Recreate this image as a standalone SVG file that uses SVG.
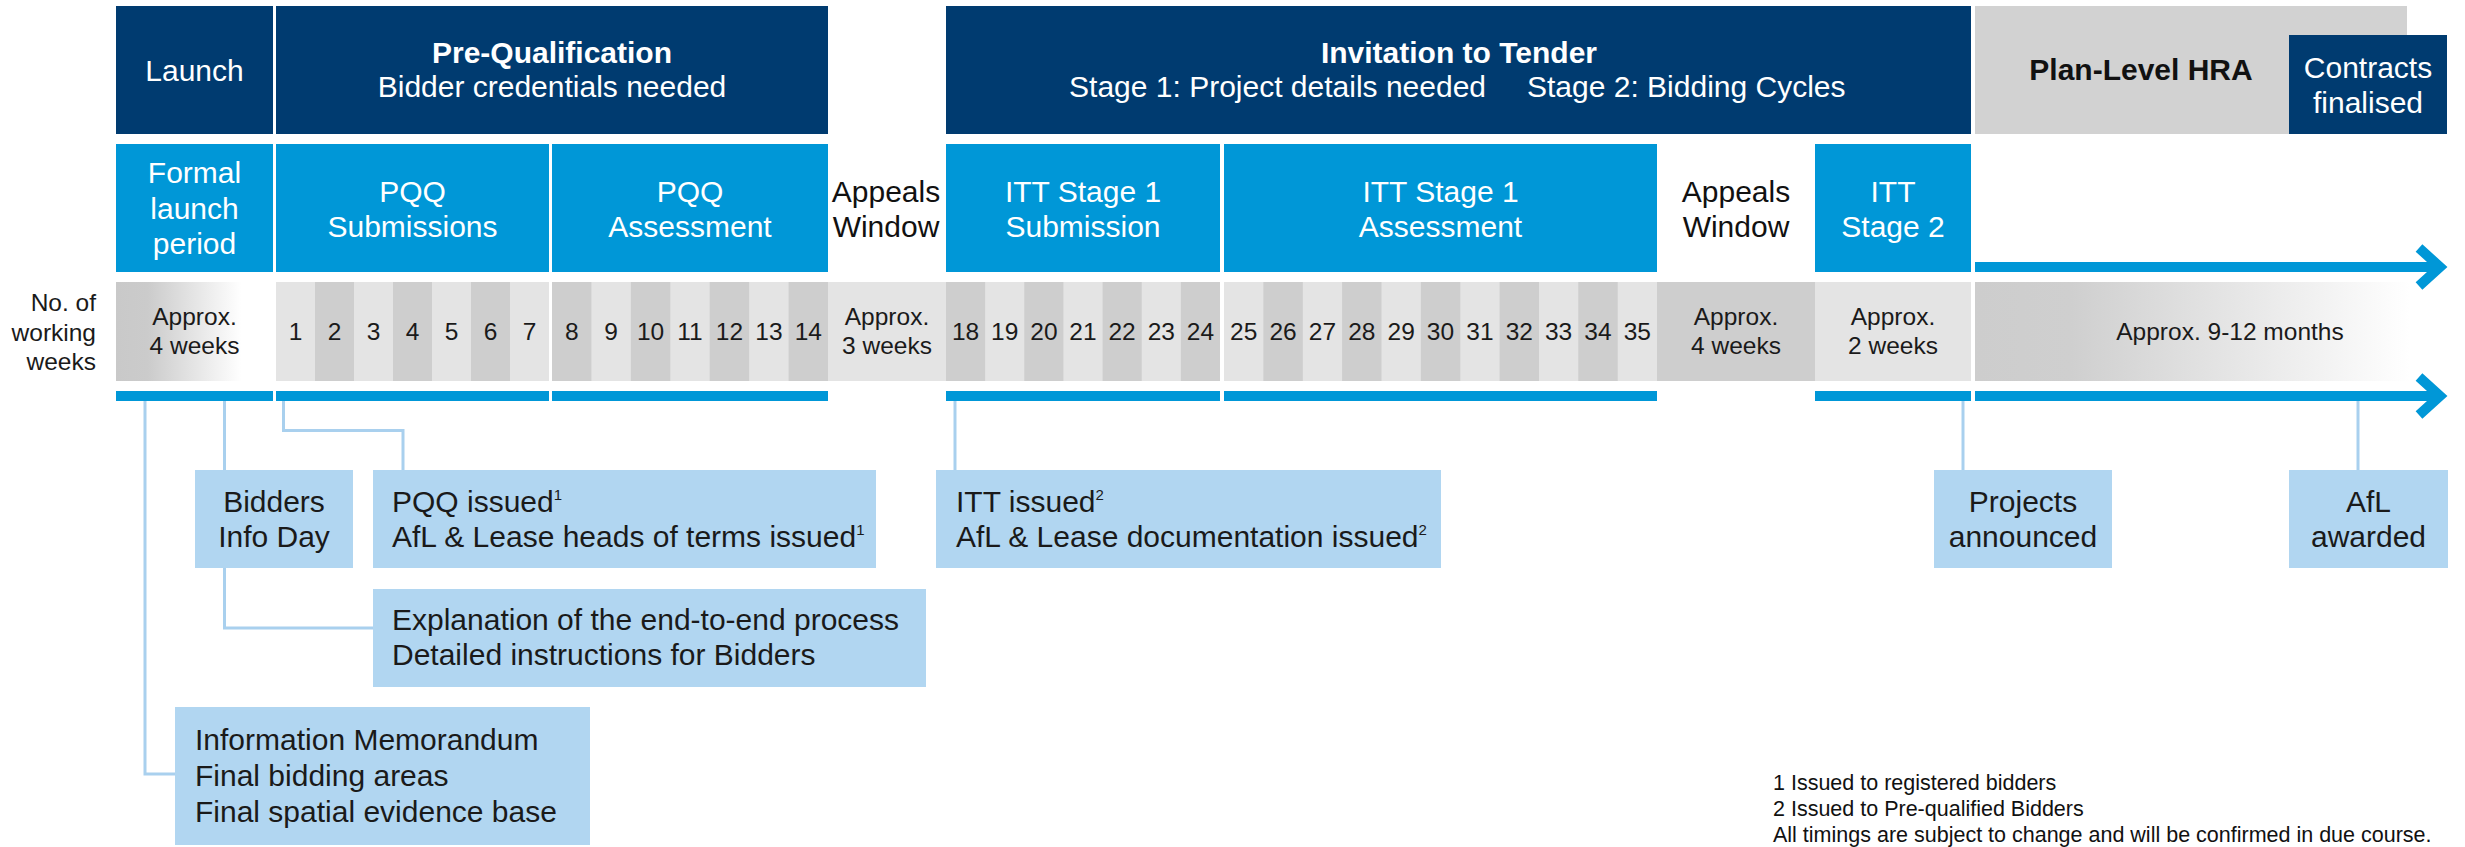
<svg xmlns="http://www.w3.org/2000/svg" width="2465" height="847" viewBox="0 0 2465 847">
<defs>
<linearGradient id="gLaunch" x1="0" y1="0" x2="1" y2="0">
<stop offset="0" stop-color="#c9c9c9"/><stop offset="0.2" stop-color="#cbcbcb"/><stop offset="0.8" stop-color="#ffffff"/><stop offset="1" stop-color="#ffffff"/>
</linearGradient>
<linearGradient id="gMonths" x1="0" y1="0" x2="1" y2="0">
<stop offset="0" stop-color="#cdcdcd"/><stop offset="0.22" stop-color="#cfcfcf"/><stop offset="0.7" stop-color="#ececec"/><stop offset="1" stop-color="#ffffff"/>
</linearGradient>
<style>
text{font-family:"Liberation Sans",Arial,sans-serif;}
.navy{fill:#003b70;}
.blue{fill:#0097d7;}
.pale{fill:#b1d6f1;}
.lg{fill:#e4e4e4;}
.dg{fill:#cecece;}
.hd{font-size:30px;fill:#fff;text-anchor:middle;}
.hb{font-size:30px;font-weight:bold;text-anchor:middle;}
.ph{font-size:30px;fill:#fff;text-anchor:middle;}
.pk{font-size:30px;fill:#111;text-anchor:middle;}
.num{font-size:24.5px;fill:#1a1a1a;text-anchor:middle;}
.lbl{font-size:30px;fill:#1a1a1a;}
.lblc{font-size:30px;fill:#1a1a1a;text-anchor:middle;}
.fn{font-size:21.5px;fill:#111;}
.conn{fill:none;stroke:#a9d0ee;stroke-width:3;}
.arr{fill:none;stroke:#0097d7;stroke-width:10;stroke-linejoin:miter;stroke-miterlimit:10;}
</style>
</defs>

<!-- Top header row -->
<g id="hdr-launch"><rect class="navy" x="116" y="6" width="157" height="128"/><text class="hd" x="194.5" y="81">Launch</text></g>
<g id="hdr-preq"><rect class="navy" x="276" y="6" width="552" height="128"/>
<text class="hb" x="552" y="63" fill="#fff">Pre-Qualification</text>
<text class="hd" x="552" y="97">Bidder credentials needed</text></g>
<g id="hdr-itt"><rect class="navy" x="946" y="6" width="1025" height="128"/>
<text class="hb" x="1459" y="63" fill="#fff">Invitation to Tender</text>
<text class="hd" x="1486" y="97" style="text-anchor:end">Stage 1: Project details needed</text>
<text class="hd" x="1527" y="97" style="text-anchor:start">Stage 2: Bidding Cycles</text></g>
<g id="hdr-hra"><rect x="1975" y="6" width="432" height="128" fill="#d2d2d2"/>
<text class="hb" x="2141" y="80" fill="#111">Plan-Level HRA</text></g>
<g id="hdr-contracts"><rect class="navy" x="2289" y="35" width="158" height="99"/>
<text class="hd" x="2368" y="78">Contracts</text><text class="hd" x="2368" y="113">finalised</text></g>

<!-- Phase row -->
<g id="ph-formal"><rect class="blue" x="116" y="144" width="157" height="128"/>
<text class="ph" x="194.5" y="183">Formal</text><text class="ph" x="194.5" y="218.5">launch</text><text class="ph" x="194.5" y="254">period</text></g>
<g id="ph-pqqsub"><rect class="blue" x="276" y="144" width="273" height="128"/>
<text class="ph" x="412.5" y="202">PQQ</text><text class="ph" x="412.5" y="237">Submissions</text></g>
<g id="ph-pqqass"><rect class="blue" x="552" y="144" width="276" height="128"/>
<text class="ph" x="690" y="202">PQQ</text><text class="ph" x="690" y="237">Assessment</text></g>
<g id="ph-appeals1"><text class="pk" x="886" y="202">Appeals</text><text class="pk" x="886" y="237">Window</text></g>
<g id="ph-ittsub"><rect class="blue" x="946" y="144" width="274" height="128"/>
<text class="ph" x="1083" y="202">ITT Stage 1</text><text class="ph" x="1083" y="237">Submission</text></g>
<g id="ph-ittass"><rect class="blue" x="1224" y="144" width="433" height="128"/>
<text class="ph" x="1440.5" y="202">ITT Stage 1</text><text class="ph" x="1440.5" y="237">Assessment</text></g>
<g id="ph-appeals2"><text class="pk" x="1736" y="202">Appeals</text><text class="pk" x="1736" y="237">Window</text></g>
<g id="ph-itt2"><rect class="blue" x="1815" y="144" width="156" height="128"/>
<text class="ph" x="1893" y="202">ITT</text><text class="ph" x="1893" y="237">Stage 2</text></g>
<g id="arrow-top"><rect class="blue" x="1975" y="262" width="462" height="10"/><polyline class="arr" points="2419,248 2440,267 2419,286"/></g>

<!-- Weeks row -->
<g id="weeks-label"><text class="num" x="96" y="311" style="text-anchor:end">No. of</text><text class="num" x="96" y="341" style="text-anchor:end">working</text><text class="num" x="96" y="370" style="text-anchor:end">weeks</text></g>
<g id="wk-launch"><rect x="116" y="282" width="157" height="99" fill="url(#gLaunch)"/>
<text class="num" x="194.5" y="325">Approx.</text><text class="num" x="194.5" y="354">4 weeks</text></g>
<g id="wk-1-7"><rect class="lg" x="276" y="282" width="273" height="99"/>
<rect class="dg" x="315" y="282" width="39" height="99"/><rect class="dg" x="393" y="282" width="39" height="99"/><rect class="dg" x="471" y="282" width="39" height="99"/>
<text class="num" x="295.5" y="340">1</text><text class="num" x="334.5" y="340">2</text><text class="num" x="373.5" y="340">3</text><text class="num" x="412.5" y="340">4</text><text class="num" x="451.5" y="340">5</text><text class="num" x="490.5" y="340">6</text><text class="num" x="529.5" y="340">7</text></g>
<g id="wk-8-14"><rect class="lg" x="552" y="282" width="276" height="99"/>
<rect class="dg" x="552" y="282" width="39.4" height="99"/><rect class="dg" x="630.9" y="282" width="39.4" height="99"/><rect class="dg" x="709.7" y="282" width="39.4" height="99"/><rect class="dg" x="788.6" y="282" width="39.4" height="99"/>
<text class="num" x="571.7" y="340">8</text><text class="num" x="611.1" y="340">9</text><text class="num" x="650.6" y="340">10</text><text class="num" x="690" y="340">11</text><text class="num" x="729.4" y="340">12</text><text class="num" x="768.9" y="340">13</text><text class="num" x="808.3" y="340">14</text></g>
<g id="wk-appeals1"><rect class="lg" x="828" y="282" width="118" height="99"/>
<text class="num" x="887" y="325">Approx.</text><text class="num" x="887" y="354">3 weeks</text></g>
<g id="wk-18-24"><rect class="lg" x="946" y="282" width="274" height="99"/>
<rect class="dg" x="946" y="282" width="39.1" height="99"/><rect class="dg" x="1024.3" y="282" width="39.1" height="99"/><rect class="dg" x="1102.6" y="282" width="39.1" height="99"/><rect class="dg" x="1180.9" y="282" width="39.1" height="99"/>
<text class="num" x="965.6" y="340">18</text><text class="num" x="1004.7" y="340">19</text><text class="num" x="1043.9" y="340">20</text><text class="num" x="1083" y="340">21</text><text class="num" x="1122.1" y="340">22</text><text class="num" x="1161.3" y="340">23</text><text class="num" x="1200.4" y="340">24</text></g>
<g id="wk-25-35"><rect class="lg" x="1224" y="282" width="433" height="99"/>
<rect class="dg" x="1263.4" y="282" width="39.4" height="99"/><rect class="dg" x="1342.1" y="282" width="39.4" height="99"/><rect class="dg" x="1420.9" y="282" width="39.4" height="99"/><rect class="dg" x="1499.6" y="282" width="39.4" height="99"/><rect class="dg" x="1578.3" y="282" width="39.4" height="99"/>
<text class="num" x="1243.7" y="340">25</text><text class="num" x="1283.1" y="340">26</text><text class="num" x="1322.4" y="340">27</text><text class="num" x="1361.8" y="340">28</text><text class="num" x="1401.2" y="340">29</text><text class="num" x="1440.5" y="340">30</text><text class="num" x="1479.9" y="340">31</text><text class="num" x="1519.3" y="340">32</text><text class="num" x="1558.6" y="340">33</text><text class="num" x="1598" y="340">34</text><text class="num" x="1637.3" y="340">35</text></g>
<g id="wk-appeals2"><rect class="dg" x="1657" y="282" width="158" height="99"/>
<text class="num" x="1736" y="325">Approx.</text><text class="num" x="1736" y="354">4 weeks</text></g>
<g id="wk-itt2"><rect class="lg" x="1815" y="282" width="156" height="99"/>
<text class="num" x="1893" y="325">Approx.</text><text class="num" x="1893" y="354">2 weeks</text></g>
<g id="wk-months"><rect x="1975" y="282" width="435" height="99" fill="url(#gMonths)"/>
<text class="num" x="2230" y="340">Approx. 9-12 months</text></g>

<!-- Bottom bars -->
<g id="bars">
<rect class="blue" x="116" y="391" width="157" height="10"/>
<rect class="blue" x="276" y="391" width="273" height="10"/>
<rect class="blue" x="552" y="391" width="276" height="10"/>
<rect class="blue" x="946" y="391" width="274" height="10"/>
<rect class="blue" x="1224" y="391" width="433" height="10"/>
<rect class="blue" x="1815" y="391" width="156" height="10"/>
</g>
<g id="arrow-bottom"><rect class="blue" x="1975" y="391" width="462" height="10"/><polyline class="arr" points="2419,377 2440,396 2419,415"/></g>

<!-- Connectors -->
<g id="connectors">
<polyline class="conn" points="145,401 145,774 175,774"/>
<polyline class="conn" points="224.5,401 224.5,470"/>
<polyline class="conn" points="224.5,568 224.5,628 373,628"/>
<polyline class="conn" points="283.5,401 283.5,430.5 403,430.5 403,470"/>
<polyline class="conn" points="955,401 955,470"/>
<polyline class="conn" points="1963,401 1963,470"/>
<polyline class="conn" points="2358,401 2358,470"/>
</g>

<!-- Callout boxes -->
<g id="box-infoday"><rect class="pale" x="195" y="470" width="158" height="98"/>
<text class="lblc" x="274" y="512">Bidders</text><text class="lblc" x="274" y="547">Info Day</text></g>
<g id="box-pqq"><rect class="pale" x="373" y="470" width="503" height="98"/>
<text class="lbl" x="392" y="512">PQQ issued<tspan font-size="15" dy="-12">1</tspan></text>
<text class="lbl" x="392" y="547">AfL &amp; Lease heads of terms issued<tspan font-size="15" dy="-12">1</tspan></text></g>
<g id="box-explain"><rect class="pale" x="373" y="589" width="553" height="98"/>
<text class="lbl" x="392" y="630">Explanation of the end-to-end process</text>
<text class="lbl" x="392" y="665">Detailed instructions for Bidders</text></g>
<g id="box-memo"><rect class="pale" x="175" y="707" width="415" height="138"/>
<text class="lbl" x="195" y="750">Information Memorandum</text>
<text class="lbl" x="195" y="786">Final bidding areas</text>
<text class="lbl" x="195" y="822">Final spatial evidence base</text></g>
<g id="box-itt"><rect class="pale" x="936" y="470" width="505" height="98"/>
<text class="lbl" x="956" y="512">ITT issued<tspan font-size="15" dy="-12">2</tspan></text>
<text class="lbl" x="956" y="547">AfL &amp; Lease documentation issued<tspan font-size="15" dy="-12">2</tspan></text></g>
<g id="box-projects"><rect class="pale" x="1934" y="470" width="178" height="98"/>
<text class="lblc" x="2023" y="512">Projects</text><text class="lblc" x="2023" y="547">announced</text></g>
<g id="box-afl"><rect class="pale" x="2289" y="470" width="159" height="98"/>
<text class="lblc" x="2368.5" y="512">AfL</text><text class="lblc" x="2368.5" y="547">awarded</text></g>

<!-- Footnotes -->
<g id="footnotes">
<text class="fn" x="1773" y="790">1 Issued to registered bidders</text>
<text class="fn" x="1773" y="816">2 Issued to Pre-qualified Bidders</text>
<text class="fn" x="1773" y="842">All timings are subject to change and will be confirmed in due course.</text>
</g>
</svg>
